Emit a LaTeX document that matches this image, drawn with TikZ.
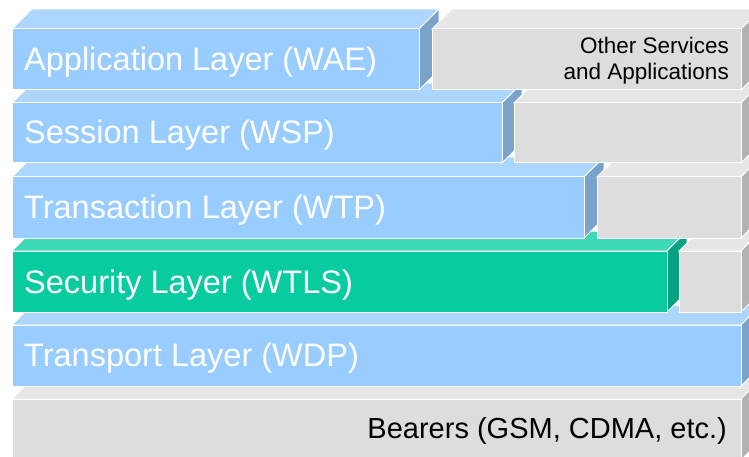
\documentclass[tikz,border=0pt]{standalone}
\usepackage{fontspec}
\setmainfont{Liberation Sans}
\definecolor{bluefront}{HTML}{99CCFF}
\definecolor{bluetop}{HTML}{ADD6FF}
\definecolor{blueside}{HTML}{7AA3CC}
\definecolor{greenfront}{HTML}{09CBA0}
\definecolor{greentop}{HTML}{3DD8B5}
\definecolor{greenside}{HTML}{05A380}
\definecolor{grayfront}{HTML}{DDDDDD}
\definecolor{graytop}{HTML}{E6E6E6}
\definecolor{grayside}{HTML}{B2B2B2}
% one slab: #1 x-left, #2 y-top, #3 x-right, #4 y-bottom, #5 colour family
\newcommand\slab[5]{%
  \filldraw[face, fill=#5top] (#1,#2) -- (#1+20,#2-20) -- (#3+20,#2-20) -- (#3,#2) -- cycle;
  \filldraw[face, fill=#5side] (#3,#2) -- (#3+20,#2-20) -- (#3+20,#4-20) -- (#3,#4) -- cycle;
  \filldraw[face, fill=#5front] (#1,#2) rectangle (#3,#4);
}
\begin{document}
\begin{tikzpicture}[x=1pt, y=-1pt,
  face/.style={draw=white, line width=1pt, line join=miter},
  layertext/.style={anchor=base west, text=white, inner sep=0pt,
    font=\fontsize{32.5}{38}\selectfont},
  sidetext/.style={anchor=base east, text=black, inner sep=0pt,
    font=\fontsize{22.5}{26.5}\selectfont}]
\useasboundingbox (0,0) rectangle (749,457);
\clip (0,0) rectangle (749,457);
% rows are drawn from the bottom up so upper fronts hide lower tops
\slab{12}{399}{741}{460}{gray}
\slab{12}{325}{741}{386}{blue}
\slab{12}{251}{667}{312}{green}
\slab{679}{251}{741}{312}{gray}
\slab{12}{177}{584}{238}{blue}
\slab{597}{177}{741}{238}{gray}
\slab{12}{103}{502}{163}{blue}
\slab{514}{103}{741}{163}{gray}
\slab{12}{29}{419}{90}{blue}
\slab{432}{29}{741}{90}{gray}
% labels
\node[layertext] (wae) at (24,70.3) {Application Layer (WAE)};
\node[layertext] (wsp) at (24,143.5) {Session Layer (WSP)};
\node[layertext] (wtp) at (24,218.3) {Transaction Layer (WTP)};
\node[layertext] (wtls) at (24,293) {Security Layer (WTLS)};
\node[layertext] (wdp) at (24,366.7) {Transport Layer (WDP)};
\node[sidetext] (other) at (729,53.3) {Other Services};
\node[sidetext] (apps) at (729,80) {and Applications};
\node[sidetext, font=\fontsize{29}{34}\selectfont] (bearers) at (727,438.3) {Bearers (GSM, CDMA, etc.)};
\end{tikzpicture}
\end{document}
